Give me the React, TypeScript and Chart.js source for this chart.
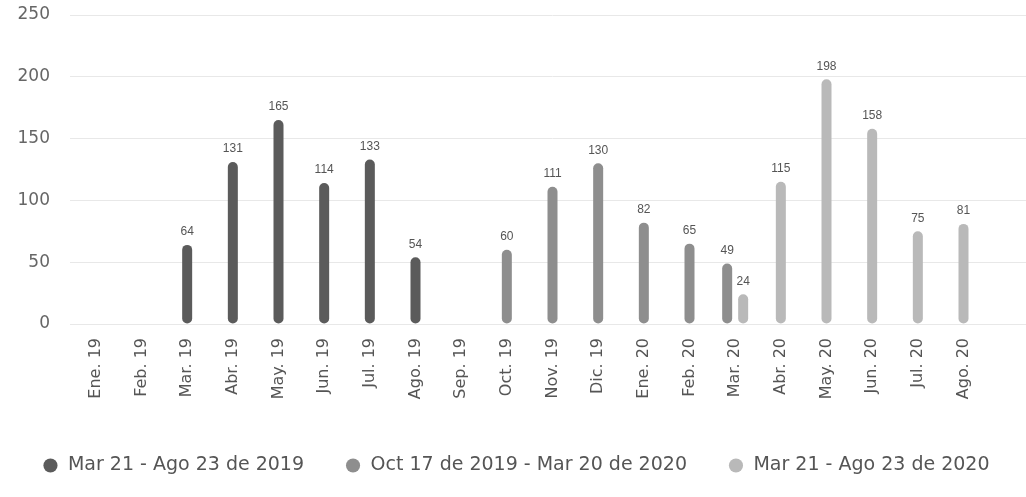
import React, { useEffect, useRef } from "react";
import { Chart, registerables } from "chart.js";

Chart.register(...registerables);

// Categories (the last slot is an empty category, as in the reference's x range)
const months = [
  "Ene. 19", "Feb. 19", "Mar. 19", "Abr. 19", "May. 19", "Jun. 19", "Jul. 19",
  "Ago. 19", "Sep. 19", "Oct. 19", "Nov. 19", "Dic. 19", "Ene. 20", "Feb. 20",
  "Mar. 20", "Abr. 20", "May. 20", "Jun. 20", "Jul. 20", "Ago. 20", "",
];

const seriesNames = [
  "Mar 21 - Ago 23 de 2019",
  "Oct 17 de 2019 - Mar 20 de 2020",
  "Mar 21 - Ago 23 de 2020",
];

const period2019 = [null, null, 64, 131, 165, 114, 133, 54, null, null, null, null, null, null, null, null, null, null, null, null];
const period2019_2020 = [null, null, null, null, null, null, null, null, null, 60, 111, 130, 82, 65, 49, null, null, null, null, null];
const period2020 = [null, null, null, null, null, null, null, null, null, null, null, null, null, null, 24, 115, 198, 158, 75, 81];

const yTicks = { min: 0, max: 250, step: 50 };

const colors = ["#5b5b5b", "#8e8e8e", "#b9b9b9"];

const valueLabels = {
  id: "valueLabels",
  afterDatasetsDraw(chart: any) {
    const ctx = chart.ctx;
    ctx.save();
    ctx.font = "12px 'Liberation Sans Narrow', 'Liberation Sans', sans-serif";
    ctx.fillStyle = "#555";
    ctx.textAlign = "center";
    ctx.textBaseline = "bottom";
    chart.data.datasets.forEach((ds: any, di: number) => {
      const meta = chart.getDatasetMeta(di);
      meta.data.forEach((el: any, i: number) => {
        const v = ds.data[i];
        if (v === null || v === undefined) return;
        ctx.fillText(String(v), el.x, el.y - 7);
      });
    });
    ctx.restore();
  },
};

export default function App() {
  const ref = useRef<HTMLCanvasElement | null>(null);

  useEffect(() => {
    if (!ref.current) return;
    const font = "'DejaVu Sans', sans-serif";
    const chart = new Chart(ref.current, {
      type: "bar",
      data: {
        labels: months,
        datasets: [period2019, period2019_2020, period2020].map((d, i) => ({
          label: seriesNames[i],
          data: d,
          backgroundColor: colors[i],
          borderWidth: 0,
          borderRadius: 5,
          borderSkipped: false,
        })),
      },
      options: {
        responsive: false,
        animation: false,
        layout: { padding: { top: 15, left: 0, right: 0, bottom: 12 } },
        datasets: {
          bar: {
            skipNull: true,
            categoryPercentage: 0.7,
            barPercentage: 0.9,
            maxBarThickness: 10,
          },
        },
        scales: {
          x: {
            grid: { display: false, drawTicks: false },
            border: { display: false },
            ticks: {
              autoSkip: false,
              minRotation: 90,
              maxRotation: 90,
              padding: 14,
              color: "#555",
              font: { family: font, size: 16 },
            },
            afterFit: (s: any) => {
              s.height = 91;
              s.paddingLeft = 0;
              s.paddingRight = 0;
            },
          },
          y: {
            min: yTicks.min,
            max: yTicks.max,
            ticks: {
              stepSize: yTicks.step,
              padding: 20,
              color: "#666",
              font: { family: font, size: 17 },
            },
            grid: { color: "#e8e8e8", tickLength: 3 },
            border: { display: false },
            afterFit: (s: any) => {
              s.width = 73;
              s.paddingTop = 0;
              s.paddingBottom = 0;
            },
          },
        },
        plugins: {
          legend: {
            position: "bottom",
            labels: {
              usePointStyle: true,
              pointStyle: "circle",
              boxWidth: 16,
              boxHeight: 10,
              padding: 41,
              color: "#555",
              font: { family: font, size: 19 },
            },
          },
          tooltip: { enabled: false },
        },
      } as any,
      plugins: [valueLabels],
    });
    return () => chart.destroy();
  }, []);

  return (
    <div
      style={{
        position: "absolute",
        left: 0,
        top: 0,
        width: 1026,
        height: 497,
        overflow: "hidden",
        background: "#fff",
      }}
    >
      <canvas ref={ref} width={1032} height={497} style={{ display: "block" }} />
    </div>
  );
}
